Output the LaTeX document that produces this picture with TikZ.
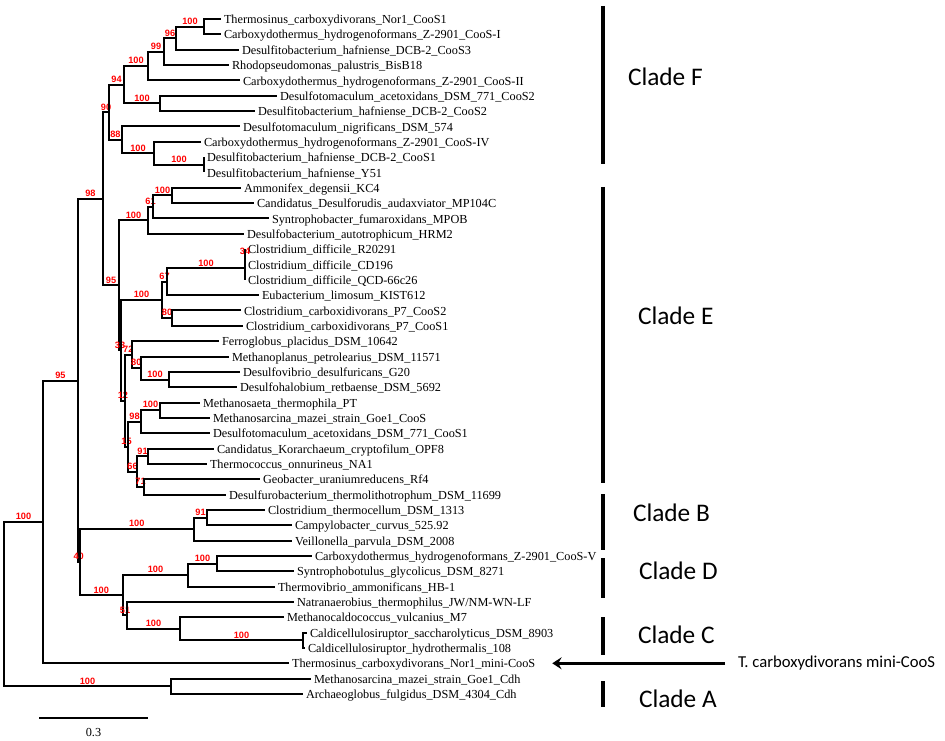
\documentclass[tikz,border=0pt]{standalone}
\usepackage{fontspec}
\setmainfont{Liberation Serif}
\newfontfamily\bsfont{Liberation Sans}
\newfontfamily\cladefont{Carlito}
\usepackage{tikz}
\usetikzlibrary{arrows.meta}
\tikzset{every picture/.style={line width=1.5pt}}
\tikzset{
  leaf/.style={anchor=west, inner xsep=1.5pt, inner ysep=0pt, text height=0.8em, text depth=0.1em,
    font=\fontsize{9.2}{11}\selectfont},
  bs/.style={pos=0.75, above, inner sep=0.8pt, text=red, font=\bsfont\bfseries\fontsize{6.9}{7}\selectfont},
  clade/.style={anchor=west, inner sep=0pt, text height=0.64em, text depth=0pt,
    font=\cladefont\fontsize{19}{22}\selectfont},
  bar/.style={line width=2.3pt},
  pointer/.style={line width=1.8pt, -{Stealth[length=7pt, width=9pt, inset=2.5pt]}}
}

\begin{document}
\begin{tikzpicture}[x=0.75pt, y=-0.75pt]
  \useasboundingbox (0,0) rectangle (945,741);

  % leaves
  \node[leaf] (l1)  at (221,19.0)  {Thermosinus\_carboxydivorans\_Nor1\_CooS1};
  \node[leaf] (l2)  at (221,34.3)  {Carboxydothermus\_hydrogenoformans\_Z-2901\_CooS-I};
  \node[leaf] (l3)  at (239,49.7)  {Desulfitobacterium\_hafniense\_DCB-2\_CooS3};
  \node[leaf] (l4)  at (229,65.0)  {Rhodopseudomonas\_palustris\_BisB18};
  \node[leaf] (l5)  at (240,80.4)  {Carboxydothermus\_hydrogenoformans\_Z-2901\_CooS-II};
  \node[leaf] (l6)  at (277,95.7)  {Desulfotomaculum\_acetoxidans\_DSM\_771\_CooS2};
  \node[leaf] (l7)  at (255,111.0) {Desulfitobacterium\_hafniense\_DCB-2\_CooS2};
  \node[leaf] (l8)  at (240,126.4) {Desulfotomaculum\_nigrificans\_DSM\_574};
  \node[leaf] (l9)  at (201,141.7) {Carboxydothermus\_hydrogenoformans\_Z-2901\_CooS-IV};
  \node[leaf] (l10) at (204,157.1) {Desulfitobacterium\_hafniense\_DCB-2\_CooS1};
  \node[leaf] (l11) at (204,172.4) {Desulfitobacterium\_hafniense\_Y51};
  \node[leaf] (l12) at (241,187.7) {Ammonifex\_degensii\_KC4};
  \node[leaf] (l13) at (254,203.1) {Candidatus\_Desulforudis\_audaxviator\_MP104C};
  \node[leaf] (l14) at (269,218.4) {Syntrophobacter\_fumaroxidans\_MPOB};
  \node[leaf] (l15) at (244,233.8) {Desulfobacterium\_autotrophicum\_HRM2};
  \node[leaf] (l16) at (245,249.1) {Clostridium\_difficile\_R20291};
  \node[leaf] (l17) at (245,264.4) {Clostridium\_difficile\_CD196};
  \node[leaf] (l18) at (245,279.8) {Clostridium\_difficile\_QCD-66c26};
  \node[leaf] (l19) at (259,295.1) {Eubacterium\_limosum\_KIST612};
  \node[leaf] (l20) at (241,310.5) {Clostridium\_carboxidivorans\_P7\_CooS2};
  \node[leaf] (l21) at (243,325.8) {Clostridium\_carboxidivorans\_P7\_CooS1};
  \node[leaf] (l22) at (219,341.1) {Ferroglobus\_placidus\_DSM\_10642};
  \node[leaf] (l23) at (229,356.5) {Methanoplanus\_petrolearius\_DSM\_11571};
  \node[leaf] (l24) at (240,371.8) {Desulfovibrio\_desulfuricans\_G20};
  \node[leaf] (l25) at (237,387.2) {Desulfohalobium\_retbaense\_DSM\_5692};
  \node[leaf] (l26) at (200,402.5) {Methanosaeta\_thermophila\_PT};
  \node[leaf] (l27) at (210,417.8) {Methanosarcina\_mazei\_strain\_Goe1\_CooS};
  \node[leaf] (l28) at (210,433.2) {Desulfotomaculum\_acetoxidans\_DSM\_771\_CooS1};
  \node[leaf] (l29) at (214,448.5) {Candidatus\_Korarchaeum\_cryptofilum\_OPF8};
  \node[leaf] (l30) at (207,463.9) {Thermococcus\_onnurineus\_NA1};
  \node[leaf] (l31) at (260,479.2) {Geobacter\_uraniumreducens\_Rf4};
  \node[leaf] (l32) at (226,494.5) {Desulfurobacterium\_thermolithotrophum\_DSM\_11699};
  \node[leaf] (l33) at (265,509.9) {Clostridium\_thermocellum\_DSM\_1313};
  \node[leaf] (l34) at (292,525.2) {Campylobacter\_curvus\_525.92};
  \node[leaf] (l35) at (292,540.6) {Veillonella\_parvula\_DSM\_2008};
  \node[leaf] (l36) at (312,555.9) {Carboxydothermus\_hydrogenoformans\_Z-2901\_CooS-V};
  \node[leaf] (l37) at (294,571.2) {Syntrophobotulus\_glycolicus\_DSM\_8271};
  \node[leaf] (l38) at (275,586.6) {Thermovibrio\_ammonificans\_HB-1};
  \node[leaf] (l39) at (294,601.9) {Natranaerobius\_thermophilus\_JW/NM-WN-LF};
  \node[leaf] (l40) at (284,617.3) {Methanocaldococcus\_vulcanius\_M7};
  \node[leaf] (l41) at (307,632.6) {Caldicellulosiruptor\_saccharolyticus\_DSM\_8903};
  \node[leaf] (l42) at (305,647.9) {Caldicellulosiruptor\_hydrothermalis\_108};
  \node[leaf] (l43) at (289,663.3) {Thermosinus\_carboxydivorans\_Nor1\_mini-CooS};
  \node[leaf] (l44) at (311,678.6) {Methanosarcina\_mazei\_strain\_Goe1\_Cdh};
  \node[leaf] (l45) at (303,694.0) {Archaeoglobus\_fulgidus\_DSM\_4304\_Cdh};

  % internal nodes
  \coordinate (root)  at (4,604.1);
  \coordinate (nIn)   at (43,521.9);
  \coordinate (nA)    at (171,686.3);
  \coordinate (n95)   at (78,380.5);
  \coordinate (n98)   at (103,198.8);
  \coordinate (n90)   at (109,112.25);
  \coordinate (n94)   at (124,84.7);
  \coordinate (nF)    at (148,66.0);
  \coordinate (n99)   at (164,51.6);
  \coordinate (n96)   at (176,38.2);
  \coordinate (nF1)   at (204,26.65);
  \coordinate (nF2)   at (160,103.35);
  \coordinate (n88)   at (122,139.8);
  \coordinate (nF3)   at (154,153.2);
  \coordinate (nF4)   at (204,164.75);
  \coordinate (nE)    at (119,285.3);
  \coordinate (nE1)   at (148,220.35);
  \coordinate (n61)   at (153,206.9);
  \coordinate (nE2)   at (172,195.4);
  \coordinate (n33)   at (121,350.25);
  \coordinate (nE3)   at (162,299.9);
  \coordinate (n67)   at (167,281.7);
  \coordinate (nE4)   at (245,268.3);
  \coordinate (n34)   at (245,256.75);
  \coordinate (n80c)  at (172,318.15);
  \coordinate (n12)   at (125,400.6);
  \coordinate (n72)   at (131.5,354.55);
  \coordinate (n80)   at (141,368);
  \coordinate (nE5)   at (169,379.5);
  \coordinate (n15)   at (128,446.6);
  \coordinate (n98b)  at (141,421.7);
  \coordinate (nE6)   at (160,410.15);
  \coordinate (n66)   at (137,471.5);
  \coordinate (n91)   at (148,456.2);
  \coordinate (n71)   at (144,486.85);
  \coordinate (n40)   at (79.5,562.15);
  \coordinate (nB)    at (194,529.1);
  \coordinate (n91b)  at (207,517.55);
  \coordinate (nCD)   at (123,595.2);
  \coordinate (nD)    at (188,575.1);
  \coordinate (nD1)   at (217,563.55);
  \coordinate (n51)   at (127,615.35);
  \coordinate (nC)    at (180,628.8);
  \coordinate (nC1)   at (303,640.25);

  % branches
  \draw (root) |- node[bs] {100} (nIn);
  \draw (root) |- node[bs] {100} (nA);
  \draw (nA) |- (l44.west);
  \draw (nA) |- (l45.west);
  \draw (nIn) |- node[bs] {95} (n95);
  \draw (nIn) |- (l43.west);
  \draw (n95) |- node[bs] {98} (n98);
  \draw (n95) |- node[bs] {40} (n40);

  % clade F
  \draw (n98) |- node[bs] {90} (n90);
  \draw (n90) |- node[bs] {94} (n94);
  \draw (n90) |- node[bs] {88} (n88);
  \draw (n94) |- node[bs] {100} (nF);
  \draw (n94) |- node[bs] {100} (nF2);
  \draw (nF) |- node[bs] {99} (n99);
  \draw (nF) |- (l5.west);
  \draw (n99) |- node[bs] {96} (n96);
  \draw (n99) |- (l4.west);
  \draw (n96) |- node[bs] {100} (nF1);
  \draw (n96) |- (l3.west);
  \draw (nF1) |- (l1.west);
  \draw (nF1) |- (l2.west);
  \draw (nF2) |- (l6.west);
  \draw (nF2) |- (l7.west);
  \draw (n88) |- (l8.west);
  \draw (n88) |- node[bs] {100} (nF3);
  \draw (nF3) |- (l9.west);
  \draw (nF3) |- node[bs] {100} (nF4);
  \draw (nF4) |- (l10.west);
  \draw (nF4) |- (l11.west);

  % clade E
  \draw (n98) |- node[bs] {95} (nE);
  \draw (nE) |- node[bs] {100} (nE1);
  \draw (nE) |- node[bs] {33} (n33);
  \draw (nE1) |- node[bs] {61} (n61);
  \draw (nE1) |- (l15.west);
  \draw (n61) |- node[bs] {100} (nE2);
  \draw (n61) |- (l14.west);
  \draw (nE2) |- (l12.west);
  \draw (nE2) |- (l13.west);
  \draw (n33) |- node[bs] {100} (nE3);
  \draw (n33) |- node[bs] {12} (n12);
  \draw (nE3) |- node[bs] {67} (n67);
  \draw (nE3) |- node[bs] {80} (n80c);
  \draw (n67) |- node[bs] {100} (nE4);
  \draw (n67) |- (l19.west);
  \draw (nE4) |- node[bs] {34} (n34);
  \draw (nE4) |- (l18.west);
  \draw (n34) |- (l16.west);
  \draw (n34) |- (l17.west);
  \draw (n80c) |- (l20.west);
  \draw (n80c) |- (l21.west);
  \draw (n12) |- node[bs] {72} (n72);
  \draw (n12) |- node[bs] {15} (n15);
  \draw (n72) |- (l22.west);
  \draw (n72) |- node[bs] {80} (n80);
  \draw (n80) |- (l23.west);
  \draw (n80) |- node[bs] {100} (nE5);
  \draw (nE5) |- (l24.west);
  \draw (nE5) |- (l25.west);
  \draw (n15) |- node[bs] {98} (n98b);
  \draw (n15) |- node[bs] {66} (n66);
  \draw (n98b) |- node[bs] {100} (nE6);
  \draw (n98b) |- (l28.west);
  \draw (nE6) |- (l26.west);
  \draw (nE6) |- (l27.west);
  \draw (n66) |- node[bs] {91} (n91);
  \draw (n66) |- node[bs] {71} (n71);
  \draw (n91) |- (l29.west);
  \draw (n91) |- (l30.west);
  \draw (n71) |- (l31.west);
  \draw (n71) |- (l32.west);

  % clades B, D, C
  \draw (n40) |- node[bs] {100} (nB);
  \draw (n40) |- node[bs] {100} (nCD);
  \draw (nB) |- node[bs] {91} (n91b);
  \draw (nB) |- (l35.west);
  \draw (n91b) |- (l33.west);
  \draw (n91b) |- (l34.west);
  \draw (nCD) |- node[bs] {100} (nD);
  \draw (nCD) |- node[bs] {51} (n51);
  \draw (nD) |- node[bs] {100} (nD1);
  \draw (nD) |- (l38.west);
  \draw (nD1) |- (l36.west);
  \draw (nD1) |- (l37.west);
  \draw (n51) |- (l39.west);
  \draw (n51) |- node[bs] {100} (nC);
  \draw (nC) |- (l40.west);
  \draw (nC) |- node[bs] {100} (nC1);
  \draw (nC1) |- (l41.west);
  \draw (nC1) |- (l42.west);

  % scale bar
  \coordinate (sb1) at (39,718);
  \coordinate (sb2) at (148,718);
  \draw (sb1) -- (sb2);
  \node[font=\fontsize{9.2}{11}\selectfont] (sbl) at (93.5,733) {0.3};

  % clade bars and names
  \draw[bar] (603,6) -- (603,164);
  \draw[bar] (603,187) -- (603,483);
  \draw[bar] (603,494) -- (603,550);
  \draw[bar] (603,558) -- (603,598);
  \draw[bar] (603,617) -- (603,655);
  \draw[bar] (603,681) -- (603,707);
  \node[clade] (cF) at (627,81)  {Clade F};
  \node[clade] (cE) at (637,320) {Clade E};
  \node[clade] (cB) at (632,517) {Clade B};
  \node[clade] (cD) at (638,575) {Clade D};
  \node[clade] (cC) at (637,639) {Clade C};
  \node[clade] (cA) at (638,703) {Clade A};

  \node[clade, font=\cladefont\fontsize{12.5}{14}\selectfont] (mini) at (737,663.3) {T. carboxydivorans mini-CooS};
  \draw[pointer] ([xshift=-9pt]mini.west) -- ([xshift=10.5pt]l43.east);
\end{tikzpicture}
\end{document}
